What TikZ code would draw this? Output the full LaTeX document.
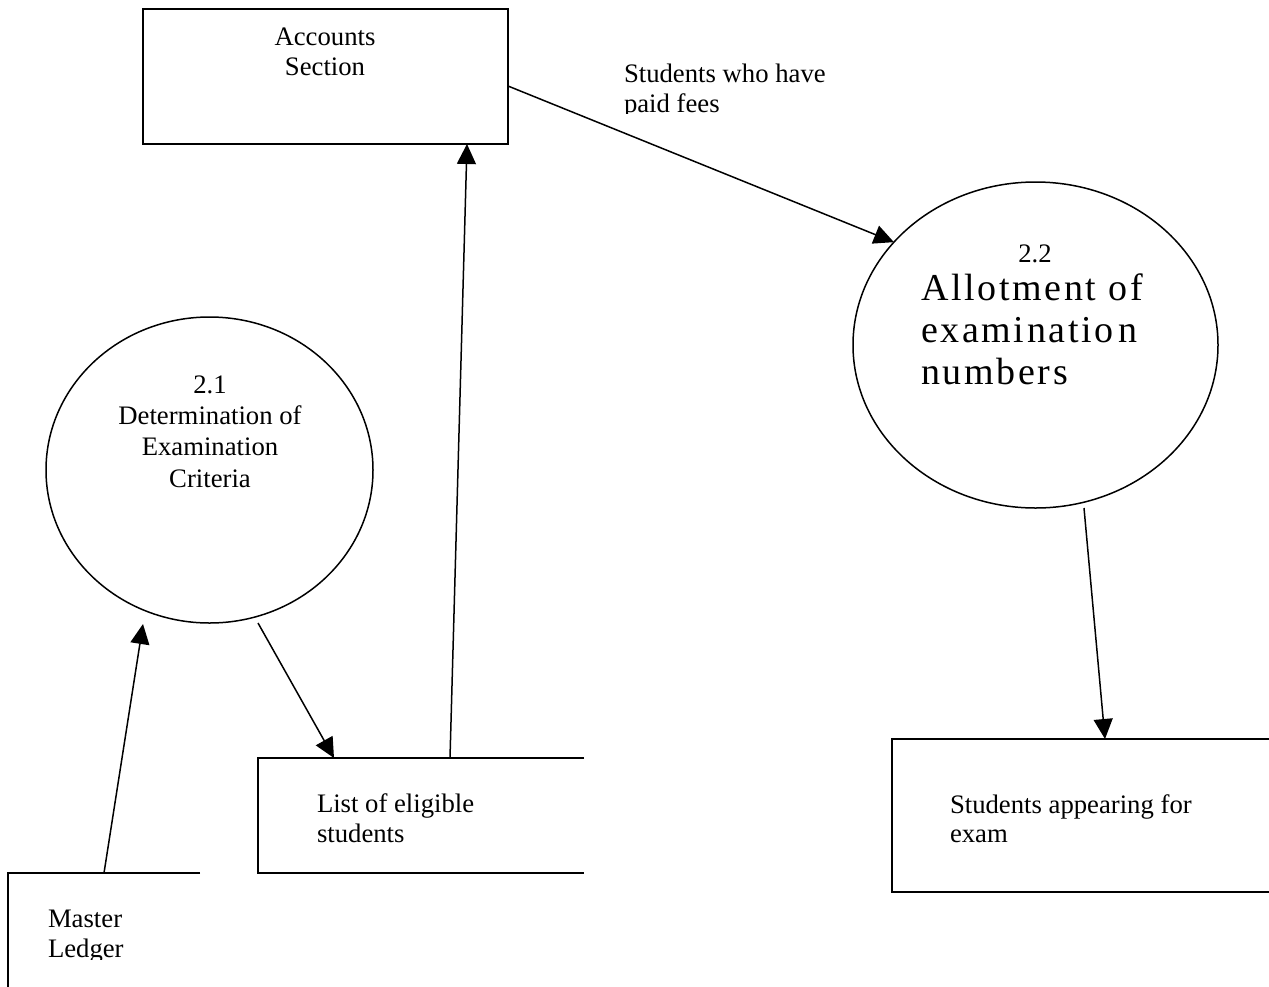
\documentclass[tikz,border=0pt]{standalone}
\usepackage{fontspec}
\setmainfont{Liberation Serif}
\newfontfamily\wideserif[LetterSpace=7]{Liberation Serif}
\usetikzlibrary{shapes.geometric,arrows.meta}

\begin{document}
\begin{tikzpicture}[x=1pt,y=-1pt,
  every node/.style={inner sep=0pt, outer sep=0pt},
  lbl/.style={font=\fontsize{26.7pt}{31.5pt}\selectfont, anchor=base},
  lblw/.style={lbl, anchor=base west},
  bigtxt/.style={font=\wideserif\fontsize{38pt}{42pt}\selectfont, anchor=base west},
  edge/.style={line width=1.5pt},
  proc/.style={ellipse, draw, line width=1.5pt},
  flow/.style={line width=1.5pt, -{Triangle[length=20pt,width=19pt]}}]

\useasboundingbox (0,0) rectangle (1269,986);
\clip (0,0) rectangle (1269,986);

% ---- external entity and data stores
\node[draw, line width=1.5pt, minimum width=365pt, minimum height=135pt] (acc) at (325.5,76.5) {};
\node[minimum width=326pt, minimum height=115pt] (lst) at (421,815.5) {};
\node[minimum width=192pt, minimum height=140pt] (ml) at (104,943) {};
\node[minimum width=400pt, minimum height=153pt] (st) at (1092,815.5) {};

% open-ended store outlines
\draw[edge] (lst.north east) -- (lst.north west) -- (lst.south west) -- (lst.south east);
\draw[edge] (ml.north east) -- (ml.north west) -- (ml.south west);
\draw[edge] (st.north east) -- (st.north west) -- (st.south west) -- (st.south east);

% ---- processes
\node[proc, minimum width=327pt, minimum height=306pt] (p21) at (209.5,470) {};
\node[proc, minimum width=365pt, minimum height=326pt] (p22) at (1035.5,345) {};

% ---- texts
\node[lbl] (acc1) at (325,45) {Accounts};
\node[lbl] (acc2) at (325,75) {Section};

\begin{scope}
  \clip (600,50) rectangle (900,113);
  \node[lblw] (fl1) at (624,82) {Students who have};
  \node[lblw] (fl2) at (624,112) {paid fees};
\end{scope}

\node[lbl] (p21a) at (210,393) {2.1};
\node[lbl] (p21b) at (210,424) {Determination of};
\node[lbl] (p21c) at (210,455) {Examination};
\node[lbl] (p21d) at (210,487) {Criteria};

\node[lbl] (p22a) at (1035,262) {2.2};
\node[bigtxt] (p22b) at (921,300) {Allotment of};
\node[bigtxt] (p22c) at (921,342) {examinatio\kern5pt n};
\node[bigtxt] (p22d) at (921,384) {numbers};

\node[lblw] (lst1) at (317,812) {List of eligible};
\node[lblw] (lst2) at (317,842) {students};

\node[lblw] (st1) at (950,813) {Students appearing for};
\node[lblw] (st2) at (950,842) {exam};

\begin{scope}
  \clip (0,880) rectangle (200,959);
  \node[lblw] (ml1) at (48,927) {Master};
  \node[lblw] (ml2) at (48,957) {Ledger};
\end{scope}

% ---- data flows
\draw[flow] ([yshift=-9.5pt]acc.east) -- (p22.144);
\draw[flow] ([xshift=48.5pt]p22.south) -- ([xshift=213pt]st.north west);
\draw[flow] ([xshift=192pt]lst.north west) -- ([xshift=-41pt]acc.south east);
\draw[flow] ([xshift=48.5pt]p21.south) -- ([xshift=76pt]lst.north west);
\draw[flow] ([xshift=96pt]ml.north west) -- ([xshift=-66.5pt,yshift=-1pt]p21.south);

\end{tikzpicture}
\end{document}
